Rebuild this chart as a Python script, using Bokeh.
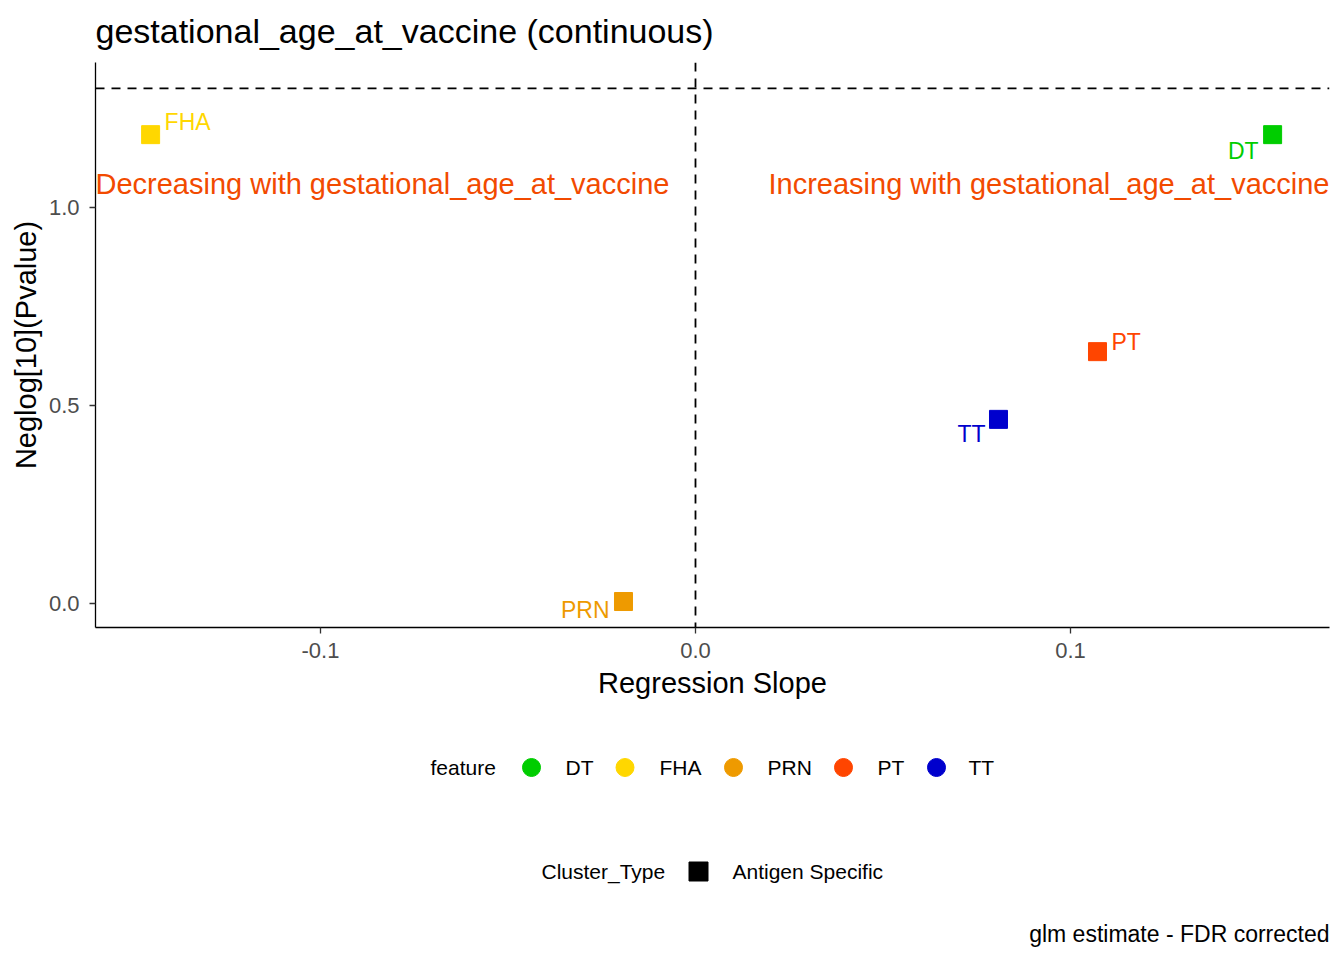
import numpy as np
from bokeh.plotting import figure
from bokeh.models import Range1d, FixedTicker, NumeralTickFormatter, Span, Label, ColumnDataSource
from bokeh.layouts import column
from bokeh.core.properties import value
from bokeh.embed import file_html
from bokeh.resources import INLINE

# ---------------- data ----------------
features = ["DT", "FHA", "PRN", "PT", "TT"]
slope = [0.1539, -0.1453, -0.0192, 0.1072, 0.0808]
neglog_p = [1.184, 1.184, 0.005, 0.636, 0.465]
feature_colors = ["#00CD00", "#FFD700", "#EE9A00", "#FF4500", "#0000CD"]
cluster_types = ["Antigen Specific"]
x_ticks = [-0.1, 0.0, 0.1]
y_ticks = [0.0, 0.5, 1.0]
sig_threshold = 0.05

title_text = "gestational_age_at_vaccine (continuous)"
x_label = "Regression Slope"
y_label = "Neglog[10](Pvalue)"
caption = "glm estimate - FDR corrected"
ann_left = "Decreasing with gestational_age_at_vaccine"
ann_right = "Increasing with gestational_age_at_vaccine"
ann_y = 1.06

# ---------------- style / layout ----------------
FONT = "Liberation Sans"
ann_color = "#F24A00"
# label nudges in screen px (dx, dy, align)
nudges = {"DT": (-14, 16, "right"), "FHA": (14, -13, "left"), "PRN": (-14, 8, "right"),
          "PT": (14, -10, "left"), "TT": (-13, 15, "right")}

x_start, x_end = -0.16, 0.16907
y_start, y_end = -0.0606, 1.3662

W = 1344
BL, BR = 95, 15          # frame borders left / right (px)
H_TOP = 62               # title strip
H_MAIN = 646             # plot (frame + bottom axis)
H_LEG = 244              # legends + caption
BB = 81


def blank(height, y0):
    f = figure(width=W, height=height, x_range=Range1d(BL, W - BR), y_range=Range1d(y0 + height, y0),
               output_backend="svg", toolbar_location=None, x_axis_type=None, y_axis_type=None,
               min_border_left=BL, min_border_right=BR, min_border_top=0, min_border_bottom=0)
    f.xgrid.visible = False
    f.ygrid.visible = False
    f.outline_line_color = None
    f.background_fill_color = "white"
    f.border_fill_color = "white"
    return f


# ---------------- title strip (page-pixel space) ----------------
t = blank(H_TOP, 0)
t.text(x=[BL], y=[30], text=[title_text], text_align="left", text_baseline="middle",
       text_font=value(FONT), text_font_size="34px", text_color="black")

# ---------------- main plot ----------------
p = figure(width=W, height=H_MAIN, x_range=Range1d(x_start, x_end), y_range=Range1d(y_start, y_end),
           output_backend="svg", toolbar_location=None,
           min_border_left=BL, min_border_right=BR, min_border_top=0, min_border_bottom=BB)
p.xgrid.visible = False
p.ygrid.visible = False
p.outline_line_color = None
p.background_fill_color = "white"
p.border_fill_color = "white"

p.xaxis.ticker = FixedTicker(ticks=x_ticks)
p.yaxis.ticker = FixedTicker(ticks=y_ticks)
p.xaxis.formatter = NumeralTickFormatter(format="0.0")
p.yaxis.formatter = NumeralTickFormatter(format="0.0")
p.xaxis.axis_label = x_label
p.yaxis.axis_label = y_label
for ax in (p.xaxis[0], p.yaxis[0]):
    ax.axis_line_color = "black"
    ax.axis_line_width = 1.3
    ax.major_tick_line_color = "#333333"
    ax.major_tick_line_width = 1.3
    ax.major_tick_out = 6
    ax.major_tick_in = 0
    ax.minor_tick_line_color = None
    ax.major_label_text_font = FONT
    ax.major_label_text_font_size = "22px"
    ax.major_label_text_color = "#4D4D4D"
    ax.axis_label_text_font = FONT
    ax.axis_label_text_font_size = "29px"
    ax.axis_label_text_font_style = "normal"
    ax.axis_label_text_color = "black"
p.xaxis.major_label_standoff = 9
p.yaxis.major_label_standoff = 10
p.xaxis.axis_label_standoff = 6
p.yaxis.axis_label_standoff = 4

# reference lines
p.add_layout(Span(location=0, dimension="height", line_color="black", line_width=1.8, line_dash="9 7"))
p.add_layout(Span(location=-np.log10(sig_threshold), dimension="width", line_color="black",
                  line_width=1.8, line_dash="9 7"))

src = ColumnDataSource(dict(feature=features, slope=slope, neglog_p=neglog_p, color=feature_colors))
p.scatter(x="slope", y="neglog_p", source=src, marker="square", size=18,
          fill_color="color", line_color="color")

for align in ("left", "right"):
    idx = [i for i, f in enumerate(features) if nudges[f][2] == align]
    s = ColumnDataSource(dict(
        x=[slope[i] for i in idx], y=[neglog_p[i] for i in idx],
        t=[features[i] for i in idx], c=[feature_colors[i] for i in idx],
        dx=[nudges[features[i]][0] for i in idx], dy=[nudges[features[i]][1] for i in idx]))
    p.text(x="x", y="y", text="t", source=s, text_color="c", x_offset="dx", y_offset="dy",
           text_align=align, text_baseline="middle", text_font=value(FONT), text_font_size="23px")

p.add_layout(Label(x=x_start, y=ann_y, text=ann_left, text_align="left", text_baseline="middle",
                   text_font=FONT, text_font_size="29px", text_color=ann_color))
p.add_layout(Label(x=x_end, y=ann_y, text=ann_right, text_align="right", text_baseline="middle",
                   text_font=FONT, text_font_size="29px", text_color=ann_color))

# ---------------- legends + caption (page-pixel space) ----------------
q = blank(H_LEG, H_TOP + H_MAIN)

LEG_SIZE = "21px"
row1_y = 767
key_x = [531, 624.5, 733, 843, 936]
lab_x = [565, 659, 767, 877, 968]
q.text(x=[430], y=[row1_y], text=["feature"], text_baseline="middle",
       text_font=value(FONT), text_font_size=LEG_SIZE, text_color="black")
q.scatter(x=key_x, y=[row1_y] * len(features), marker="circle", size=18,
          fill_color=feature_colors, line_color=feature_colors)
q.text(x=lab_x, y=[row1_y] * len(features), text=features, text_baseline="middle",
       text_font=value(FONT), text_font_size=LEG_SIZE, text_color="black")

row2_y = 871
q.text(x=[541], y=[row2_y], text=["Cluster_Type"], text_baseline="middle",
       text_font=value(FONT), text_font_size=LEG_SIZE, text_color="black")
q.scatter(x=[698], y=[row2_y], marker="square", size=19, fill_color="black", line_color="black")
q.text(x=[732], y=[row2_y], text=cluster_types, text_baseline="middle",
       text_font=value(FONT), text_font_size=LEG_SIZE, text_color="black")

q.text(x=[1329], y=[933], text=[caption], text_align="right", text_baseline="middle",
       text_font=value(FONT), text_font_size="23px", text_color="black")

layout = column(t, p, q, spacing=0)
open("out.html", "w").write(file_html(layout, INLINE, "plot"))
